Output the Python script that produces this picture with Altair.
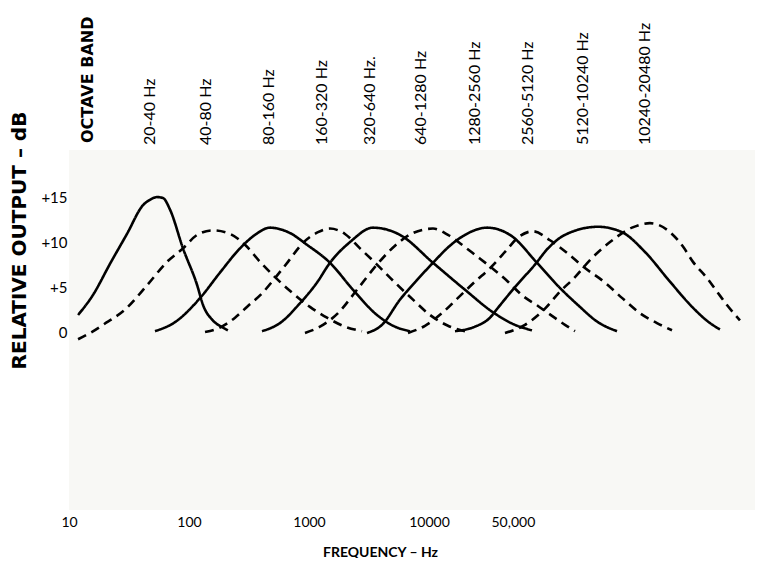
import altair as alt
import pandas as pd

# ---- band names (top labels) and line styles ----
bands = ["20-40 Hz", "40-80 Hz", "80-160 Hz", "160-320 Hz", "320-640 Hz.",
         "640-1280 Hz", "1280-2560 Hz", "2560-5120 Hz", "5120-10240 Hz", "10240-20480 Hz"]
styles = ["solid", "dashed", "solid", "dashed", "solid",
          "dashed", "solid", "dashed", "solid", "dashed"]
# x position (frequency on the drawn axis) where each band label sits
label_freq = [47.3, 139, 464, 1283, 3224, 8577, 24170, 66834, 192000, 630960]
header_text = "OCTAVE BAND"
header_freq = 14.4

# ---- curves: frequency (Hz, drawn axis) and relative output (dB) ----
c1_f = [11.9, 15.8, 22.0, 30.4, 41.4, 47.3, 54.1, 60.7, 69.5, 89.1, 117, 131, 158, 192, 211]
c1_db = [2.0, 4.2, 7.7, 11.0, 14.2, 14.8, 15.1, 15.0, 13.7, 9.4, 5.3, 3.1, 1.4, 0.6, 0.3]

c2_f = [11.9, 15.0, 19.2, 30.4, 44.7, 65.6, 89.1, 117, 158, 220, 293, 391, 521, 736, 1019, 1413, 1995, 2765]
c2_db = [-0.7, 0.0, 0.9, 2.8, 5.3, 7.9, 9.4, 10.9, 11.4, 11.0, 9.8, 7.9, 6.2, 4.4, 2.9, 1.7, 0.7, 0.2]

c3_f = [52.1, 76.4, 124, 181, 266, 355, 473, 695, 962, 1496, 2326, 3687, 5208, 6946]
c3_db = [0.2, 1.2, 3.9, 6.7, 9.4, 10.9, 11.7, 11.1, 9.8, 7.8, 4.8, 2.0, 0.7, 0.2]

c4_f = [136, 181, 242, 310, 406, 521, 668, 891, 1189, 1496, 1995, 2661, 3687, 5208, 7356, 10194, 14398, 19953]
c4_db = [0.1, 0.6, 1.7, 3.0, 4.4, 6.1, 7.9, 10.0, 11.2, 11.6, 11.0, 9.4, 7.6, 5.6, 3.7, 2.0, 0.8, 0.2]

c5_f = [406, 573, 841, 1166, 1496, 2196, 3415, 5731, 10798, 19953, 34145, 52080, 72170]
c5_db = [0.2, 1.1, 3.3, 5.6, 7.8, 10.1, 11.7, 10.9, 7.8, 4.8, 2.3, 0.9, 0.3]

c6_f = [926, 1235, 1745, 2512, 3687, 5208, 7356, 10798, 14398, 18836, 24644, 32860, 45530, 59566,
        80967, 105930, 135940, 164690]
c6_db = [0.0, 0.7, 2.2, 4.8, 7.6, 9.7, 11.1, 11.6, 10.9, 9.8, 8.6, 7.3, 5.7, 4.2, 3.0, 1.9, 0.9, 0.2]

c7_f = [3043, 4058, 5731, 8097, 10798, 14962, 19953, 30430, 47320, 79433, 123510, 174470, 256050, 368690]
c7_db = [0.0, 0.9, 3.7, 6.0, 7.8, 9.7, 10.9, 11.7, 10.9, 7.8, 5.0, 3.1, 1.2, 0.2]

c8_f = [6683, 9261, 12833, 17447, 24170, 32860, 42987, 55154, 73564, 101940, 141250, 195750, 292860,
        405800, 573100, 794330, 1059300]
c8_db = [0.0, 0.8, 2.2, 3.9, 5.7, 7.3, 9.0, 10.6, 11.3, 10.3, 8.9, 7.3, 5.6, 3.9, 2.2, 1.1, 0.3]

c9_f = [16469, 24170, 32237, 37584, 52080, 76440, 98105, 135940, 256050, 405800, 630960, 1019400,
        1584900, 2196000, 2660700]
c9_db = [0.2, 0.7, 1.7, 2.8, 5.1, 7.6, 9.4, 10.9, 11.8, 11.2, 9.0, 5.7, 2.8, 1.1, 0.4]

c10_f = [42987, 63096, 92611, 123510, 164690, 219600, 322370, 491680, 694600, 1019400, 1308200,
         1584900, 2073500, 2511900, 3043000, 3905000]
c10_db = [0.0, 0.9, 2.7, 4.6, 6.2, 8.1, 10.1, 11.7, 12.2, 11.2, 9.6, 7.9, 6.1, 4.6, 3.1, 1.4]

curve_f = [c1_f, c2_f, c3_f, c4_f, c5_f, c6_f, c7_f, c8_f, c9_f, c10_f]
curve_db = [c1_db, c2_db, c3_db, c4_db, c5_db, c6_db, c7_db, c8_db, c9_db, c10_db]

# ---- axis ticks ----
x_tick_values = [10, 100, 1000, 10000, 50000]
x_tick_labels = ["10", "100", "1000", "10000", "50,000"]
y_tick_values = [0, 5, 10, 15]
y_tick_labels = ["0", "+5", "+10", "+15"]

# ---- tables ----
rows = []
for band, style, fs, dbs in zip(bands, styles, curve_f, curve_db):
    for f, d in zip(fs, dbs):
        rows.append({"band": band, "style": style, "freq": f, "db": d})
df = pd.DataFrame(rows)
labels_df = pd.DataFrame({"band": bands, "freq": label_freq})
header_df = pd.DataFrame({"text": [header_text], "freq": [header_freq]})


def label_expr(values, labels):
    parts = [f"datum.value == {v} ? '{l}'" for v, l in zip(values, labels)]
    return " : ".join(parts) + " : ''"


xscale = alt.Scale(type="log", domain=[10, 5.21e6], nice=False)
yscale = alt.Scale(domain=[-19.67, 20.33], nice=False, zero=False)

xaxis = alt.Axis(values=x_tick_values, labelExpr=label_expr(x_tick_values, x_tick_labels),
                 grid=False, domain=False, ticks=False, labelFont="Lato", labelFontSize=14,
                 labelColor="black", labelPadding=5, labelBaseline="top", labelFlush=False,
                 title="FREQUENCY – Hz", titleFont="Lato", titleFontSize=14, titleFontWeight="bold",
                 titleColor="black", titleX=311, titleY=42, titleAlign="center",
                 titleBaseline="middle")
yaxis = alt.Axis(values=y_tick_values, labelExpr=label_expr(y_tick_values, y_tick_labels),
                 grid=False, domain=False, ticks=False, labelFont="Lato", labelFontSize=15,
                 labelColor="black", labelPadding=2,
                 title="RELATIVE OUTPUT – dB", titleFont="DejaVu Sans", titleFontSize=20,
                 titleFontWeight="bold", titleColor="black", titleAngle=270, titleX=-50, titleY=90,
                 titleAlign="center", titleBaseline="middle")

lines = alt.Chart(df).mark_line(interpolate="monotone", strokeWidth=2.6, color="black").encode(
    x=alt.X("freq:Q", scale=xscale, axis=xaxis),
    y=alt.Y("db:Q", scale=yscale, axis=yaxis),
    strokeDash=alt.StrokeDash("style:N",
                              scale=alt.Scale(domain=["solid", "dashed"], range=[[1, 0], [9, 6]]),
                              legend=None),
    detail="band:N",
)

band_labels = alt.Chart(labels_df).mark_text(
    angle=270, align="left", baseline="middle", font="Lato", fontSize=16, color="black"
).encode(
    x=alt.X("freq:Q", scale=xscale, axis=xaxis),
    y=alt.value(-5),
    text="band:N",
)

header = alt.Chart(header_df).mark_text(
    angle=270, align="left", baseline="middle", font="DejaVu Sans", fontSize=16,
    fontWeight="bold", color="black"
).encode(
    x=alt.X("freq:Q", scale=xscale, axis=xaxis),
    y=alt.value(-7),
    text="text:N",
)

chart = alt.layer(lines, band_labels, header).properties(
    width=686, height=360,
    autosize=alt.AutoSizeParams(type="none"),
    padding={"left": 61, "top": 142, "right": 5, "bottom": 48},
    background="white",
).configure_view(fill="#f8f8f5", stroke=None)

chart.save("out.html", embed_options={"renderer": "svg", "actions": False})
